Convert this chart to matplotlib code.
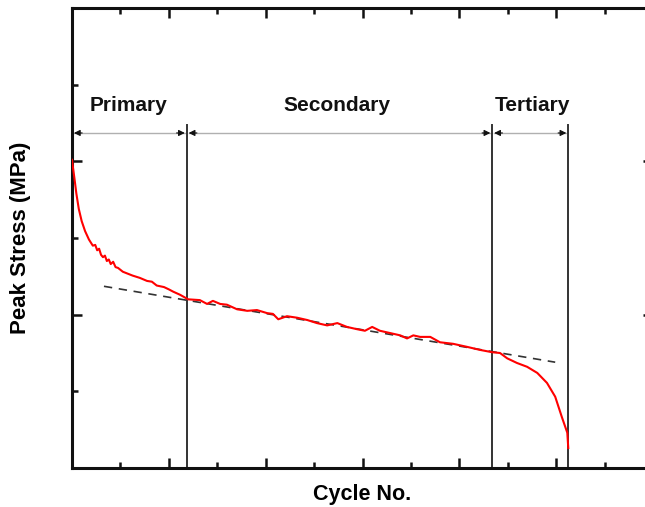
import matplotlib
matplotlib.use("Agg")
import matplotlib.pyplot as plt
from matplotlib.ticker import MultipleLocator, NullFormatter

plt.rcParams['font.family'] = ['Liberation Sans', 'DejaVu Sans']

# peak stress curve (arbitrary units)
cycle = [0.00, 0.02, 0.05, 0.09, 0.14, 0.20, 0.27, 0.35, 0.43, 0.48, 0.52, 0.56, 0.60,
         0.64, 0.68, 0.72, 0.76, 0.80, 0.85, 0.90, 0.95, 1.05, 1.13, 1.25, 1.40,
         1.55, 1.65, 1.75, 1.90, 2.00, 2.09, 2.23,
         2.40, 2.64, 2.79, 2.91, 3.06, 3.20, 3.41, 3.62, 3.82, 4.03, 4.15, 4.26,
         4.44, 4.65, 4.86, 5.06, 5.27, 5.48, 5.68, 5.89, 6.05, 6.20, 6.36, 6.57,
         6.78, 6.92, 7.05, 7.19, 7.40, 7.60, 7.87, 8.16, 8.43, 8.68,
         8.84, 8.99, 9.19, 9.40, 9.61, 9.81, 9.98, 10.12, 10.23, 10.25]
stress = [4.02, 3.92, 3.78, 3.58, 3.38, 3.22, 3.09, 2.98, 2.90, 2.91, 2.84, 2.86, 2.78,
          2.75, 2.77, 2.70, 2.72, 2.66, 2.69, 2.62, 2.61, 2.56, 2.54, 2.51, 2.48,
          2.44, 2.43, 2.38, 2.36, 2.33, 2.30, 2.26,
          2.20, 2.19, 2.14, 2.18, 2.14, 2.13, 2.07, 2.05, 2.06, 2.02, 2.01, 1.94,
          1.98, 1.96, 1.93, 1.89, 1.86, 1.89, 1.84, 1.81, 1.79, 1.84, 1.79, 1.76,
          1.73, 1.69, 1.73, 1.71, 1.71, 1.64, 1.62, 1.58, 1.54, 1.51,
          1.50, 1.43, 1.37, 1.32, 1.24, 1.11, 0.93, 0.66, 0.46, 0.26]

# steady-state fit line
fit_x = [0.66, 9.98]
fit_y = [2.37, 1.38]

# stage boundaries and labels
bounds = [0.0, 2.37, 8.68, 10.25]
stage_names = ["Primary", "Secondary", "Tertiary"]
stage_label_x = [1.16, 5.48, 9.52]

fig = plt.figure(figsize=(6.45, 5.07), dpi=100)
ax = fig.add_axes([72 / 645, 1 - 468 / 507, 581 / 645, 460 / 507])

ax.plot(cycle, stress, color='#ff0000', lw=1.5, zorder=3)
ax.plot(fit_x, fit_y, color='#333333', lw=1.2, dashes=(5, 4), zorder=2)

line_top = 4.47
arrow_y = 4.37
for b in bounds[1:]:
    ax.plot([b, b], [0, line_top], color='#333333', lw=1.4, zorder=2)

head = 0.17
for i in range(3):
    x0 = bounds[i] + 0.04
    x1 = bounds[i + 1] - 0.04
    ax.plot([x0, x1], [arrow_y, arrow_y], color='#b0b0b0', lw=1.0, zorder=1)
    for xs, xe in [(x0 + head, x0), (x1 - head, x1)]:
        ax.annotate('', xy=(xe, arrow_y), xytext=(xs, arrow_y),
                    arrowprops=dict(arrowstyle='-|>', color='#111111', lw=0.8,
                                    mutation_scale=9, shrinkA=0, shrinkB=0))
    ax.text(stage_label_x[i], 4.73, stage_names[i], ha='center', va='center',
            fontsize=15, fontweight='bold', color='#111111')

ax.set_xlim(0, 12)
ax.set_ylim(0, 6)
ax.xaxis.set_major_locator(MultipleLocator(2))
ax.xaxis.set_minor_locator(MultipleLocator(1))
ax.yaxis.set_major_locator(MultipleLocator(2))
ax.yaxis.set_minor_locator(MultipleLocator(1))
ax.xaxis.set_major_formatter(NullFormatter())
ax.yaxis.set_major_formatter(NullFormatter())
ax.tick_params(which='both', direction='in', top=True, right=True, width=1.8, color='#111111')
ax.tick_params(which='major', length=7)
ax.tick_params(which='minor', length=4)
for side in ['left', 'bottom', 'top']:
    ax.spines[side].set_linewidth(2.2)
    ax.spines[side].set_color('#111111')
ax.spines['right'].set_visible(False)

ax.set_xlabel("Cycle No.", fontsize=15.5, fontweight='bold', labelpad=8)
ax.set_ylabel("Peak Stress (MPa)", fontsize=16, fontweight='bold', labelpad=26)

fig.savefig("out.png", dpi=100)
